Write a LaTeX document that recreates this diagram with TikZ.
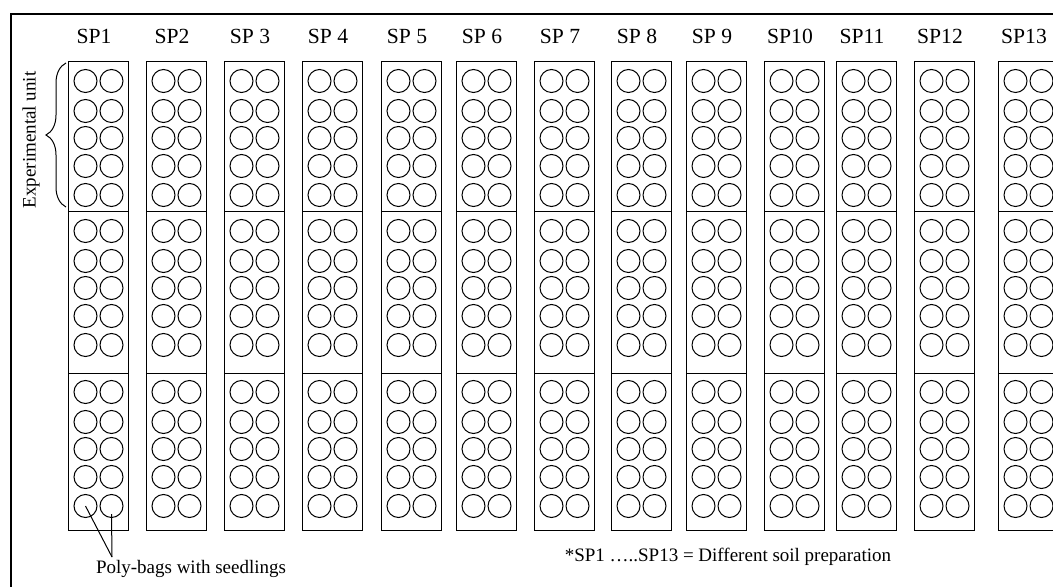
\documentclass[tikz,border=0pt]{standalone}
\usepackage{fontspec}
\setmainfont{Liberation Serif}
\usetikzlibrary{decorations.pathreplacing}

\begin{document}
\begin{tikzpicture}[x=0.5pt,y=-0.5pt,line width=0.5pt,
  bag/.style={draw,circle,minimum size=11.5pt,inner sep=0pt},
  splabel/.style={font=\fontsize{10.8}{13}\selectfont},
  note/.style={font=\fontsize{9.5}{11}\selectfont}]
\useasboundingbox (0,0) rectangle (1053,587);
\clip (0,0) rectangle (1053,587);
\draw[line width=1pt] (11,14) rectangle (1080,610);
% soil preparations: three experimental units of ten bags each
\foreach \x/\lab [count=\i] in {68/SP1,146/SP2,224/SP 3,302/SP 4,381/SP 5,456/SP 6,534/SP 7,611/SP 8,686/SP 9,764/SP10,836/SP11,914/SP12,998/SP13}{
  \node[splabel] (sp\i) at (\x+26,36) {\lab};
  \foreach \ya/\yb [count=\s] in {62/212,212/373,373/530}{
    \draw (\x,\ya) rectangle (\x+60,\yb);
    \foreach \dy [count=\r] in {19,49,76,104,133}{
      \node[bag] (b\i-\s-\r-1) at (\x+17.5,\ya+\dy) {};
      \node[bag] (b\i-\s-\r-2) at (\x+43.5,\ya+\dy) {};
    }
  }
}
\draw[decorate,decoration={brace,amplitude=10pt}] (66,207) -- (66,63);
\node[note,rotate=90] (unit) at (31,140) {Experimental unit};
\coordinate (pbtip) at (112,557);
\node[note] (pb) at (191,569) {Poly-bags with seedlings};
\draw (b1-3-5-1.center) -- (pbtip);
\draw ([yshift=-4pt]b1-3-5-2.center) -- (pbtip);
\node[note] (key) at (728,557) {*SP1 …..SP13 = Different soil preparation};
\end{tikzpicture}
\end{document}
